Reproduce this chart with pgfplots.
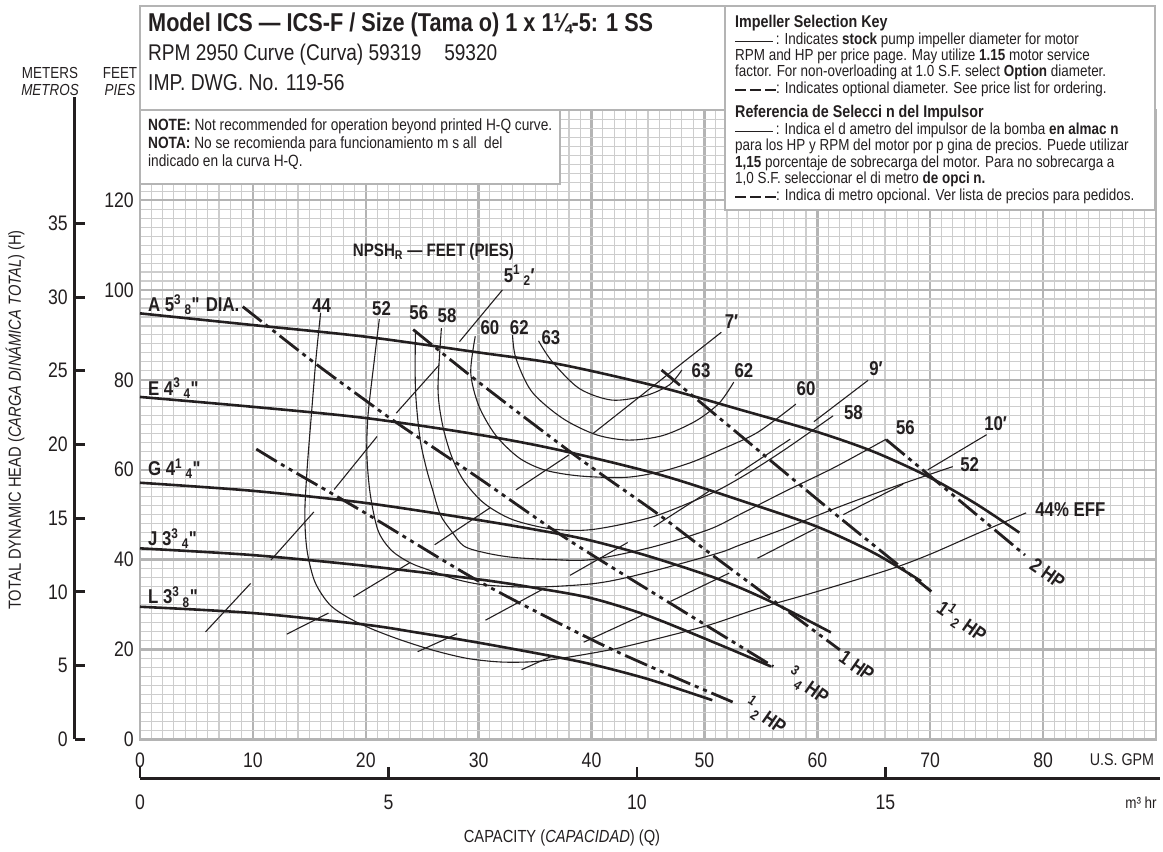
\documentclass[border=0pt]{standalone}
\usepackage{fontspec}
\setmainfont{Liberation Sans}[FakeStretch=0.84]
\usepackage{pgfplots}
\pgfplotsset{compat=1.18}
\definecolor{ink}{HTML}{231F20}
\definecolor{gridminor}{HTML}{CDCDCD}
\definecolor{gridmajor}{HTML}{B4B4B4}
\newcommand\fs[1]{\fontsize{#1}{#1}\selectfont}
\newcommand\fr[2]{\textsuperscript{#1}\,\textsubscript{#2}}
\newcommand\inch{\textquotedbl}
\newcommand\keyrule{\rule[0.3ex]{38pt}{1.5pt}\,}
\newcommand\keydash{\rule[0.3ex]{11pt}{1.8pt}\hspace{4pt}\rule[0.3ex]{11pt}{1.8pt}\hspace{4pt}\rule[0.3ex]{11pt}{1.8pt}}
\begin{document}
\begin{tikzpicture}[x=1pt,y=1pt,
  head/.style={draw=ink, line width=2.6pt, smooth},
  hp/.style={draw=ink, line width=2.8pt, smooth, dash pattern=on 24pt off 5pt on 4pt off 5pt on 4pt off 5pt},
  eff/.style={draw=ink, line width=1.1pt, smooth},
  npsh/.style={draw=ink, line width=1.1pt},
  lb/.style={font=\fs{20}\bfseries, text=ink, inner sep=0pt},
]
\useasboundingbox (-140,-112.7) rectangle (1023,739.3);
\begin{axis}[
  at={(0,0)}, anchor=south west,
  scale only axis, width=1016pt, height=629pt,
  xmin=0, xmax=90, ymin=0, ymax=140,
  xtick={0,10,...,80}, ytick={0,20,...,120},
  minor xtick={0,1,...,90}, minor ytick={0,2,...,140},
  grid=both,
  major grid style={draw=gridmajor, line width=2.4pt},
  minor grid style={draw=gridminor, line width=1.1pt},
  axis line style={draw=gridmajor, line width=2.4pt},
  major tick length=0pt, minor tick length=0pt,
  /pgf/number format/assume math mode=true,
  tick label style={font=\fs{21}, text=ink},
  xticklabel style={anchor=center, yshift=-21pt},
  yticklabel style={anchor=east, inner sep=0pt, xshift=-6pt},
  unbounded coords=jump,
]
% head curves by impeller diameter
\addplot[head] coordinates {(0,94.8)(10,92.2)(20,89.6)(30,86.1)(37.1,83.5)(45.9,78.5)(53.4,73.2)(60,68.4)(65,64)(69.8,58.5)(74,52.5)(77.9,46)};
\addplot[head] coordinates {(0,76.2)(10,74)(20,71.5)(30,67.8)(37.1,64.4)(45.9,59)(53.4,53)(59.9,47.4)(65,41.5)(69.2,35.2)};
\addplot[head] coordinates {(0,57.1)(10,55.3)(20,52.6)(30,48.8)(36.5,46)(40,44.2)(45,40.8)(51.3,35.6)(56,30.5)(61.2,23.8)};
\addplot[head] coordinates {(0,42.5)(10,41)(20,38.6)(30,35.6)(35,33.7)(40,31.4)(45,27.5)(51.3,21.1)(55.9,16.2)};
\addplot[head] coordinates {(0,29.5)(10,28.1)(20,25.5)(24.7,23.7)(30,21.5)(36.5,18.5)(40,16.7)(45,13.4)(50.7,8.7)};
% motor HP limits
\addplot[hp] coordinates {(10.3,64.6)(13,60.5)(20,50.3)(30,35.2)(40,22.2)(46,15.3)(52.5,8.3)};
\addplot[hp] coordinates {(9.1,96.3)(15.3,84.1)(20.1,75.2)(23,70)(29.8,58.5)(36.8,46.3)(41.6,38.6)(50,25.6)(56.1,16.2)};
\addplot[hp] coordinates {(24.2,91.2)(30.1,79.3)(38.7,62.9)(45.8,50.3)(50.7,41)(62,19.9)};
\addplot[hp] coordinates {(46.2,82.2)(54.3,65.3)(61.7,49.9)(70.1,32.9)};
\addplot[hp] coordinates {(66.1,66.7)(72,54.4)(78.4,41)};
% efficiency
\addplot[eff] coordinates {(16.0,94.9)(15.6,85)(15.2,72.8)(14.8,60)(14.6,50)(14.8,42)(15.5,35)(16.8,30)(18.5,27)(20.5,24.6)(23,22.2)(26,19.8)(29,18)(32,17.2)(35,17.3)(38,18.3)(42,20.1)(46,22.5)(50.5,25.5)(55,29.3)(60,32.9)(66.4,37.8)(70,41.2)(74,45.6)(78.5,50.4)};
\addplot[eff] coordinates {(21.2,93.5)(20.8,85.3)(20.2,72.1)(20.1,63.3)(20.4,54.5)(21.1,46.4)(22.3,42)(24,39.2)(25.8,37.5)(28,35.6)(30.4,34.4)(33.6,33.9)(36.5,34)(40,34.6)(42.4,35.6)(46,37.8)(51.3,41.5)(53.1,43.2)(57,46.8)(62,51.8)(67,56.4)(72,60.7)};
\addplot[eff] coordinates {(24.4,91.1)(24.4,78)(24.8,67)(25.4,60)(25.9,55.7)(26.6,50)(27.6,46.3)(28.7,43)(30.6,41.5)(33,40.5)(36.5,40)(40,40)(45.4,42.8)(50.4,46.7)(53.1,50)(57,55)(61.5,60.5)(66.1,66.8)};
\addplot[eff] coordinates {(26.7,91.5)(26.4,78)(26.8,70)(27.6,63)(28.7,57.5)(30.5,52.5)(33,48.9)(36.5,46.8)(40.1,46.7)(45.4,49.5)(50.4,54.5)(52.7,57.5)(55,61)(57.6,65.3)(61.4,72)};
\addplot[eff] coordinates {(29.7,89.7)(29.3,81.6)(30,74.3)(31.5,67.7)(33.6,62.6)(35.9,59.9)(39,58.6)(43,58.3)(46,59.5)(48.8,61.6)(51.5,64.5)(54.7,68.3)(58.1,74.6)};
\addplot[eff] coordinates {(33,90)(33.3,84.8)(34.7,77.4)(37.4,71.5)(40.4,67.8)(43.3,66.6)(46.3,67.6)(49.2,70.8)(51.3,74.8)(52.6,79.5)};
\addplot[eff] coordinates {(35.3,88.7)(36.5,84.1)(38.9,78.1)(41.8,75.5)(44.8,76.5)(46.9,78.9)(48.0,82.2)};
% NPSH required
\addplot[npsh] coordinates {(5.8,23.9)(9.8,34.7)(nan,nan)(11.6,39.9)(15.4,50.6)(nan,nan)(17.2,55.6)(21,67.4)(nan,nan)(22.7,72.6)(26.5,83.3)(nan,nan)(28.3,88.5)(32.1,100)};
\addplot[npsh] coordinates {(13,23.4)(16.7,28.1)(nan,nan)(18.9,31.7)(23.9,39.3)(nan,nan)(26.1,43.3)(31,51.5)(nan,nan)(33.3,55.5)(38,63.3)(nan,nan)(40.1,68)(51.5,90.6)};
\addplot[npsh] coordinates {(24.6,19.5)(28.1,23.5)(nan,nan)(30.6,26.5)(35.6,33.3)(nan,nan)(38.1,36.5)(43.2,43.8)(nan,nan)(45.5,47.3)(50.4,55.2)(nan,nan)(52.7,58.7)(57.6,66.8)(nan,nan)(59.7,70.7)(64.5,79.9)};
\addplot[npsh] coordinates {(33.8,15.5)(36.4,18.4)(nan,nan)(39.3,21.6)(44.5,27.6)(nan,nan)(47,30.7)(52.2,37)(nan,nan)(54.7,40.3)(59.9,47)(nan,nan)(62.3,50)(67.6,56.8)(nan,nan)(69.8,60)(75,67.8)};
% labels
\node[lb, anchor=west] at (axis cs:0.7,96.7) {A 5\fr{3}{8}\inch{} DIA.};
\node[lb, anchor=west] at (axis cs:0.7,78.1) {E 4\fr{3}{4}\inch};
\node[lb, anchor=west] at (axis cs:0.7,60.2) {G 4\fr{1}{4}\inch};
\node[lb, anchor=west] at (axis cs:0.7,44.7) {J 3\fr{3}{4}\inch};
\node[lb, anchor=west] at (axis cs:0.7,31.7) {L 3\fr{3}{8}\inch};
\node[lb] at (axis cs:16.1,96.6) {44};
\node[lb] at (axis cs:21.4,95.9) {52};
\node[lb] at (axis cs:24.7,94.9) {56};
\node[lb] at (axis cs:27.2,94.4) {58};
\node[lb] at (axis cs:31,91.7) {60};
\node[lb] at (axis cs:33.6,91.6) {62};
\node[lb] at (axis cs:36.4,89.4) {63};
\node[lb] at (axis cs:49.7,82.1) {63};
\node[lb] at (axis cs:53.5,82.1) {62};
\node[lb] at (axis cs:59,78) {60};
\node[lb] at (axis cs:63.2,72.8) {58};
\node[lb] at (axis cs:67.8,69.3) {56};
\node[lb] at (axis cs:73.5,61.1) {52};
\node[lb, anchor=west] at (axis cs:79.3,51.2) {44\% EFF};
\node[lb] at (axis cs:33.6,103.3) {5\fr{1}{2}′};
\node[lb] at (axis cs:52.4,92.9) {7′};
\node[lb] at (axis cs:65.2,82.6) {9′};
\node[lb] at (axis cs:75.8,70.3) {10′};
\node[lb, font=\fs{18}\bfseries] at (axis cs:26,108.5) {NPSH\textsubscript{R} — FEET (PIES)};
\node[lb, rotate=-35] at (axis cs:55.4,5.2) {\fr{1}{2} HP};
\node[lb, rotate=-35] at (axis cs:59.2,11.9) {\fr{3}{4} HP};
\node[lb, rotate=-35] at (axis cs:63.5,16.3) {1 HP};
\node[lb, rotate=-35] at (axis cs:72.8,26.3) {1\fr{1}{2} HP};
\node[lb, rotate=-35] at (axis cs:80.4,36.8) {2 HP};
\end{axis}
% meters scale
\begin{axis}[
  at={(-65pt,0)}, anchor=south west,
  scale only axis, width=10pt, height=642.3pt,
  xmin=0, xmax=1, ymin=0, ymax=43.57,
  axis x line=none, axis y line*=left,
  ytick={0,5,...,35}, ytick pos=left,
  axis line style={draw=ink, line width=3pt},
  tick style={draw=ink, line width=3pt},
  major tick length=10pt, tick align=inside,
  /pgf/number format/assume math mode=true,
  tick label style={font=\fs{21}, text=ink},
  yticklabel style={anchor=east, inner sep=0pt, xshift=-7pt},
]
\end{axis}
% cubic metres per hour scale
\begin{axis}[
  at={(0,-38.7pt)}, anchor=south west,
  scale only axis, width=1020pt, height=10pt,
  xmin=0, xmax=20.523, ymin=0, ymax=1,
  axis y line=none, axis x line*=bottom,
  xtick={0,5,10,15}, xtick pos=bottom,
  axis line style={draw=ink, line width=3pt},
  tick style={draw=ink, line width=2.5pt},
  major tick length=11pt, tick align=inside,
  /pgf/number format/assume math mode=true,
  tick label style={font=\fs{21}, text=ink},
  xticklabel style={anchor=center, yshift=-24pt},
]
\end{axis}
% boxes over the grid
\draw[gridmajor, line width=2.5pt, fill=white] (0,629.3) rectangle (585,733.3);
\draw[gridmajor, line width=2.5pt, fill=white] (0,555.3) rectangle (420,629.3);
\draw[gridmajor, line width=2.5pt, fill=white] (585,529.3) rectangle (1015,733.3);
\begin{scope}[every node/.style={anchor=west, inner sep=0pt, text=ink}]
\node[font=\fs{25.8}\bfseries] at (8,714.3) {Model ICS — ICS-F / Size (Tama o) 1 x 1¼-5: 1 SS};
\node[font=\fs{22.7}] at (8,684.3) {RPM 2950 Curve (Curva) 59319\quad 59320};
\node[font=\fs{23}] at (8,656.3) {IMP. DWG. No. 119-56};
\node[font=\fs{16.3}] at (8,613.3) {\textbf{NOTE:} Not recommended for operation beyond printed H-Q curve.};
\node[font=\fs{16.3}] at (8,595.3) {\textbf{NOTA:} No se recomienda para funcionamiento m s all\ \ del};
\node[font=\fs{16.3}] at (8,577.3) {indicado en la curva H-Q.};
\node[font=\fs{17}\bfseries] at (595,716.6) {Impeller Selection Key};
\node[font=\fs{16}] at (595,698.6) {\keyrule: Indicates \textbf{stock} pump impeller diameter for motor};
\node[font=\fs{16}] at (595,682.6) {RPM and HP per price page. May utilize \textbf{1.15} motor service};
\node[font=\fs{16}] at (595,666.6) {factor. For non-overloading at 1.0 S.F. select \textbf{Option} diameter.};
\node[font=\fs{16}] at (595,650) {\keydash: Indicates optional diameter. See price list for ordering.};
\node[font=\fs{17}\bfseries] at (595,626) {Referencia de Selecci n del Impulsor};
\node[font=\fs{16}] at (595,608.6) {\keyrule: Indica el d ametro del impulsor de la bomba \textbf{en almac n}};
\node[font=\fs{16}] at (595,592.6) {para los HP y RPM del motor por p gina de precios. Puede utilizar};
\node[font=\fs{16}] at (595,576) {\textbf{1,15} porcentaje de sobrecarga del motor. Para no sobrecarga a};
\node[font=\fs{16}] at (595,560) {1,0 S.F. seleccionar el di metro \textbf{de opci n.}};
\node[font=\fs{16}] at (595,542.6) {\keydash: Indica di metro opcional. Ver lista de precios para pedidos.};
\end{scope}
% axis titles
\begin{scope}[every node/.style={inner sep=0pt, text=ink, font=\fs{16}}]
\node at (-90,666.3) {METERS};
\node at (-90,649.3) {\itshape METROS};
\node at (-20,666.3) {FEET};
\node at (-20,649.3) {\itshape PIES};
\node[rotate=90, font=\fs{17.5}] at (-125,319.3) {TOTAL DYNAMIC HEAD (\textit{CARGA DINÁMICA TOTAL}) (H)};
\node[font=\fs{17}] at (982,-20.7) {U.S. GPM};
\node at (1001,-63.7) {m³ hr};
\node[font=\fs{17.5}] at (422,-98.7) {CAPACITY (\textit{CAPACIDAD}) (Q)};
\end{scope}
\end{tikzpicture}
\end{document}
